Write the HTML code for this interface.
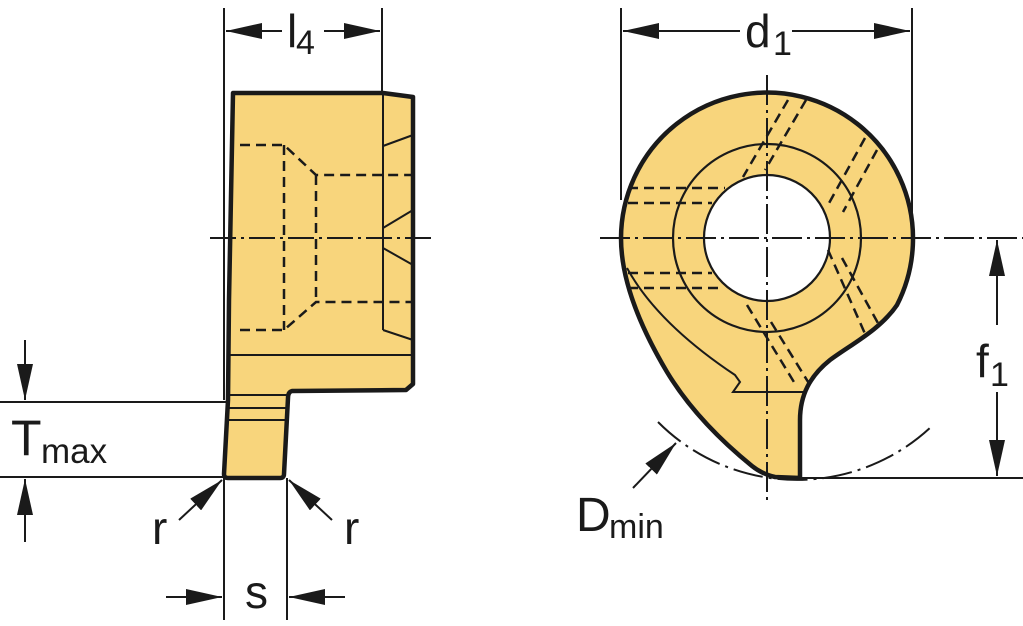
<!DOCTYPE html>
<html><head><meta charset="utf-8"><style>
html,body{margin:0;padding:0;background:#fff;}
svg{display:block;}
text{font-family:"Liberation Sans",sans-serif;fill:#1a1a1a;}
</style></head><body>
<svg width="1023" height="626" viewBox="0 0 1023 626" xmlns="http://www.w3.org/2000/svg">
<defs>
<marker id="ar" viewBox="0 0 36 16" refX="36" refY="8" markerWidth="36" markerHeight="16" markerUnits="userSpaceOnUse" orient="auto">
<path d="M0,0 L36,8 L0,16 Z" fill="#1a1a1a"/>
</marker>
</defs>
<g stroke="#1a1a1a" fill="none">
<!-- LEFT VIEW -->
<path d="M233,93 L383,93 L413,97 L413,384 L406,390 L292,391 Q288,392 288,398 L284,474 Q284,478 280,478 L228,478 Q224,478 224,474 L228,400 L229,300 Z" fill="#f8d57c" stroke-width="4.5" stroke-linejoin="round"/>
<g stroke-width="2">
<line x1="230" y1="355" x2="413" y2="355"/>
<line x1="227" y1="395" x2="288" y2="395"/>
<line x1="227" y1="408" x2="287" y2="408"/>
<line x1="227" y1="420" x2="287" y2="420"/>
<line x1="383" y1="93" x2="383" y2="330"/>
<line x1="383" y1="146" x2="413" y2="135"/>
<line x1="383" y1="228" x2="413" y2="210"/>
<line x1="383" y1="248" x2="413" y2="265"/>
<line x1="383" y1="330" x2="413" y2="340"/>
<line x1="210" y1="238" x2="435" y2="238" stroke-dasharray="26,5,3,5"/>
</g>
<g stroke-width="2.5" stroke-dasharray="10,6">
<path d="M240,145 L284,145 L316,175 L413,175"/>
<path d="M240,330 L284,330 L316,302 L413,302"/>
<line x1="284" y1="145" x2="284" y2="330"/>
<line x1="316" y1="175" x2="316" y2="302"/>
</g>
<!-- left dims -->
<g stroke-width="2">
<line x1="224" y1="8" x2="224" y2="400"/>
<line x1="382" y1="8" x2="382" y2="93"/>
<line x1="282" y1="31" x2="226" y2="31" marker-end="url(#ar)"/>
<line x1="324" y1="31" x2="380" y2="31" marker-end="url(#ar)"/>
<line x1="0" y1="402" x2="226" y2="402"/>
<line x1="0" y1="477" x2="224" y2="477"/>
<line x1="25" y1="340" x2="25" y2="400" marker-end="url(#ar)"/>
<line x1="25" y1="542" x2="25" y2="479" marker-end="url(#ar)"/>
<line x1="224" y1="478" x2="224" y2="620"/>
<line x1="287" y1="478" x2="287" y2="620"/>
<line x1="166" y1="597" x2="222" y2="597" marker-end="url(#ar)"/>
<line x1="345" y1="597" x2="289" y2="597" marker-end="url(#ar)"/>
<line x1="179" y1="520" x2="222" y2="480" marker-end="url(#ar)"/>
<line x1="332" y1="520" x2="289" y2="480" marker-end="url(#ar)"/>
</g>

<!-- RIGHT VIEW -->
<path d="M621,238 A146,146 0 1 1 897,305 C880,330 850,345 830,360 C810,376 800,395 800,420 L800,478 L775,477 Q762,474 752,466 C720,440 690,410 667,372 C645,335 621,285 621,238 Z" fill="#f8d57c" stroke-width="4.5" stroke-linejoin="round"/>
<circle cx="767" cy="238" r="63" fill="#fff" stroke-width="2.2"/>
<circle cx="767" cy="238" r="94" stroke-width="2.2"/>
<path d="M627,268 C650,310 690,345 735,375 L740,382 L733,392 L805,392" stroke-width="2"/>
<g stroke-width="2.5" stroke-dasharray="10,6">
<line x1="628" y1="188" x2="725" y2="188"/>
<line x1="628" y1="203" x2="712" y2="203"/>
<line x1="628" y1="273" x2="712" y2="273"/>
<line x1="628" y1="288" x2="722" y2="288"/>
<line x1="788" y1="100" x2="743" y2="177"/>
<line x1="806" y1="100" x2="765" y2="170"/>
<line x1="865" y1="138" x2="828" y2="205"/>
<line x1="877" y1="150" x2="843" y2="212"/>
<line x1="828" y1="250" x2="866" y2="336"/>
<line x1="842" y1="258" x2="879" y2="325"/>
<line x1="747" y1="305" x2="797" y2="387"/>
<line x1="771" y1="322" x2="810" y2="385"/>
</g>
<g stroke-width="2">
<line x1="600" y1="238" x2="1023" y2="238" stroke-dasharray="30,5,3,5"/>
<line x1="767" y1="75" x2="767" y2="505" stroke-dasharray="30,5,3,5"/>
<line x1="621" y1="8" x2="621" y2="200"/>
<line x1="912" y1="8" x2="912" y2="232"/>
<line x1="740" y1="31" x2="623" y2="31" marker-end="url(#ar)"/>
<line x1="792" y1="31" x2="910" y2="31" marker-end="url(#ar)"/>
<line x1="800" y1="478" x2="1023" y2="478"/>
<line x1="997" y1="325" x2="997" y2="240" marker-end="url(#ar)"/>
<line x1="997" y1="392" x2="997" y2="476" marker-end="url(#ar)"/>
<path d="M658,422 A196,196 0 0 0 932,426" stroke-dasharray="30,6,3,6"/>
<line x1="633" y1="488" x2="676" y2="443" marker-end="url(#ar)"/>
</g>
</g>
<!-- labels -->
<text x="287" y="47" font-size="46">l</text><text x="296" y="54" font-size="34">4</text>
<text x="745" y="47" font-size="46">d</text><text x="773" y="55" font-size="34">1</text>
<text x="976" y="377" font-size="46">f</text><text x="990" y="386" font-size="34">1</text>
<text x="11" y="455" font-size="50">T</text><text x="41" y="463" font-size="35">max</text>
<text x="576" y="531" font-size="48">D</text><text x="609" y="538" font-size="34">min</text>
<text x="152" y="544" font-size="46">r</text>
<text x="344" y="544" font-size="46">r</text>
<text x="245" y="608" font-size="46">s</text>
</svg>
</body></html>
